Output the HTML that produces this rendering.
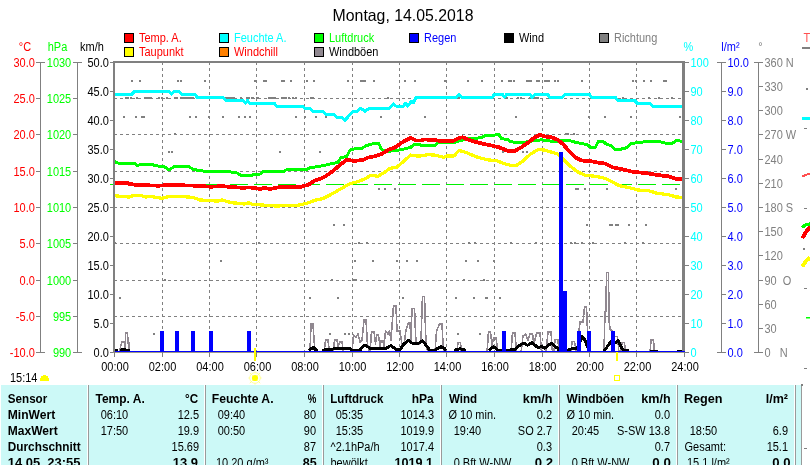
<!DOCTYPE html><html><head><meta charset="utf-8"><title>Montag, 14.05.2018</title><style>html,body{margin:0;padding:0;background:#fff;overflow:hidden}svg{display:block}text{font-family:'Liberation Sans', Arial, sans-serif}</style></head><body>
<svg width="810" height="465" viewBox="0 0 810 465">
<defs><clipPath id="plotclip"><rect x="114" y="62" width="568" height="290"/></clipPath></defs>
<rect x="0" y="0" width="810" height="465" fill="#fff"/>
<text transform="translate(332.61,21) scale(1,1.03)" font-size="16" fill="#000" textLength="140.86" lengthAdjust="spacingAndGlyphs">Montag, 14.05.2018</text>
<rect x="124.5" y="33.5" width="9" height="9" fill="#ff0000" stroke="#000" stroke-width="1"/>
<text transform="translate(139.00,42) scale(1,1.12)" font-size="11" fill="#ff0000">Temp. A.</text>
<rect x="219.5" y="33.5" width="9" height="9" fill="#00ffff" stroke="#000" stroke-width="1"/>
<text transform="translate(234.00,42) scale(1,1.12)" font-size="11" fill="#00ffff">Feuchte A.</text>
<rect x="314.5" y="33.5" width="9" height="9" fill="#00ff00" stroke="#000" stroke-width="1"/>
<text transform="translate(329.00,42) scale(1,1.12)" font-size="11" fill="#00ff00">Luftdruck</text>
<rect x="409.5" y="33.5" width="9" height="9" fill="#0000ff" stroke="#000" stroke-width="1"/>
<text transform="translate(424.00,42) scale(1,1.12)" font-size="11" fill="#0000ff">Regen</text>
<rect x="504.5" y="33.5" width="9" height="9" fill="#000" stroke="#000" stroke-width="1"/>
<text transform="translate(519.00,42) scale(1,1.12)" font-size="11" fill="#000">Wind</text>
<rect x="599.5" y="33.5" width="9" height="9" fill="#808080" stroke="#000" stroke-width="1"/>
<text transform="translate(614.00,42) scale(1,1.12)" font-size="11" fill="#808080">Richtung</text>
<rect x="124.5" y="47.5" width="9" height="9" fill="#ffff00" stroke="#000" stroke-width="1"/>
<text transform="translate(139.00,56) scale(1,1.12)" font-size="11" fill="#ff0000">Taupunkt</text>
<rect x="219.5" y="47.5" width="9" height="9" fill="#ff8000" stroke="#000" stroke-width="1"/>
<text transform="translate(234.00,56) scale(1,1.12)" font-size="11" fill="#ff0000">Windchill</text>
<rect x="314.5" y="47.5" width="9" height="9" fill="#908890" stroke="#000" stroke-width="1"/>
<text transform="translate(329.00,56) scale(1,1.12)" font-size="11" fill="#000">Windböen</text>
<g shape-rendering="crispEdges">
<line x1="162.5" y1="63" x2="162.5" y2="351" stroke="#808080" stroke-width="1" stroke-dasharray="3 3" stroke-dashoffset="1"/>
<line x1="209.5" y1="63" x2="209.5" y2="351" stroke="#808080" stroke-width="1" stroke-dasharray="3 3" stroke-dashoffset="1"/>
<line x1="256.5" y1="63" x2="256.5" y2="351" stroke="#808080" stroke-width="1" stroke-dasharray="3 3" stroke-dashoffset="1"/>
<line x1="304.5" y1="63" x2="304.5" y2="351" stroke="#808080" stroke-width="1" stroke-dasharray="3 3" stroke-dashoffset="1"/>
<line x1="352.5" y1="63" x2="352.5" y2="351" stroke="#808080" stroke-width="1" stroke-dasharray="3 3" stroke-dashoffset="1"/>
<line x1="399.5" y1="63" x2="399.5" y2="351" stroke="#808080" stroke-width="1" stroke-dasharray="3 3" stroke-dashoffset="1"/>
<line x1="446.5" y1="63" x2="446.5" y2="351" stroke="#808080" stroke-width="1" stroke-dasharray="3 3" stroke-dashoffset="1"/>
<line x1="494.5" y1="63" x2="494.5" y2="351" stroke="#808080" stroke-width="1" stroke-dasharray="3 3" stroke-dashoffset="1"/>
<line x1="542.5" y1="63" x2="542.5" y2="351" stroke="#808080" stroke-width="1" stroke-dasharray="3 3" stroke-dashoffset="1"/>
<line x1="589.5" y1="63" x2="589.5" y2="351" stroke="#808080" stroke-width="1" stroke-dasharray="3 3" stroke-dashoffset="1"/>
<line x1="636.5" y1="63" x2="636.5" y2="351" stroke="#808080" stroke-width="1" stroke-dasharray="3 3" stroke-dashoffset="1"/>
<line x1="115" y1="98.5" x2="682" y2="98.5" stroke="#808080" stroke-width="1" stroke-dasharray="3 3" stroke-dashoffset="1"/>
<line x1="115" y1="134.5" x2="682" y2="134.5" stroke="#808080" stroke-width="1" stroke-dasharray="3 3" stroke-dashoffset="1"/>
<line x1="115" y1="171.5" x2="682" y2="171.5" stroke="#808080" stroke-width="1" stroke-dasharray="3 3" stroke-dashoffset="1"/>
<line x1="115" y1="207.5" x2="682" y2="207.5" stroke="#808080" stroke-width="1" stroke-dasharray="3 3" stroke-dashoffset="1"/>
<line x1="115" y1="243.5" x2="682" y2="243.5" stroke="#808080" stroke-width="1" stroke-dasharray="3 3" stroke-dashoffset="1"/>
<line x1="115" y1="280.5" x2="682" y2="280.5" stroke="#808080" stroke-width="1" stroke-dasharray="3 3" stroke-dashoffset="1"/>
<line x1="115" y1="316.5" x2="682" y2="316.5" stroke="#808080" stroke-width="1" stroke-dasharray="3 3" stroke-dashoffset="1"/>
</g>
<rect x="131" y="80" width="2" height="2" fill="#808080" shape-rendering="crispEdges"/>
<rect x="139" y="80" width="2" height="2" fill="#808080" shape-rendering="crispEdges"/>
<rect x="177" y="80" width="2" height="2" fill="#808080" shape-rendering="crispEdges"/>
<rect x="180" y="80" width="2" height="2" fill="#808080" shape-rendering="crispEdges"/>
<rect x="204" y="80" width="2" height="2" fill="#808080" shape-rendering="crispEdges"/>
<rect x="254" y="80" width="2" height="2" fill="#808080" shape-rendering="crispEdges"/>
<rect x="263" y="80" width="2" height="2" fill="#808080" shape-rendering="crispEdges"/>
<rect x="265" y="80" width="2" height="2" fill="#808080" shape-rendering="crispEdges"/>
<rect x="281" y="80" width="2" height="2" fill="#808080" shape-rendering="crispEdges"/>
<rect x="283" y="80" width="2" height="2" fill="#808080" shape-rendering="crispEdges"/>
<rect x="290" y="80" width="2" height="2" fill="#808080" shape-rendering="crispEdges"/>
<rect x="306" y="80" width="2" height="2" fill="#808080" shape-rendering="crispEdges"/>
<rect x="313" y="80" width="2" height="2" fill="#808080" shape-rendering="crispEdges"/>
<rect x="347" y="80" width="2" height="2" fill="#808080" shape-rendering="crispEdges"/>
<rect x="360" y="80" width="2" height="2" fill="#808080" shape-rendering="crispEdges"/>
<rect x="362" y="80" width="2" height="2" fill="#808080" shape-rendering="crispEdges"/>
<rect x="364" y="80" width="2" height="2" fill="#808080" shape-rendering="crispEdges"/>
<rect x="373" y="80" width="2" height="2" fill="#808080" shape-rendering="crispEdges"/>
<rect x="404" y="80" width="2" height="2" fill="#808080" shape-rendering="crispEdges"/>
<rect x="414" y="80" width="2" height="2" fill="#808080" shape-rendering="crispEdges"/>
<rect x="444" y="80" width="2" height="2" fill="#808080" shape-rendering="crispEdges"/>
<rect x="467" y="80" width="2" height="2" fill="#808080" shape-rendering="crispEdges"/>
<rect x="481" y="80" width="2" height="2" fill="#808080" shape-rendering="crispEdges"/>
<rect x="501" y="80" width="2" height="2" fill="#808080" shape-rendering="crispEdges"/>
<rect x="508" y="80" width="2" height="2" fill="#808080" shape-rendering="crispEdges"/>
<rect x="510" y="80" width="2" height="2" fill="#808080" shape-rendering="crispEdges"/>
<rect x="513" y="80" width="2" height="2" fill="#808080" shape-rendering="crispEdges"/>
<rect x="526" y="80" width="2" height="2" fill="#808080" shape-rendering="crispEdges"/>
<rect x="528" y="80" width="2" height="2" fill="#808080" shape-rendering="crispEdges"/>
<rect x="530" y="80" width="2" height="2" fill="#808080" shape-rendering="crispEdges"/>
<rect x="536" y="80" width="2" height="2" fill="#808080" shape-rendering="crispEdges"/>
<rect x="538" y="80" width="2" height="2" fill="#808080" shape-rendering="crispEdges"/>
<rect x="544" y="80" width="2" height="2" fill="#808080" shape-rendering="crispEdges"/>
<rect x="546" y="80" width="2" height="2" fill="#808080" shape-rendering="crispEdges"/>
<rect x="548" y="80" width="2" height="2" fill="#808080" shape-rendering="crispEdges"/>
<rect x="554" y="80" width="2" height="2" fill="#808080" shape-rendering="crispEdges"/>
<rect x="557" y="80" width="2" height="2" fill="#808080" shape-rendering="crispEdges"/>
<rect x="581" y="80" width="2" height="2" fill="#808080" shape-rendering="crispEdges"/>
<rect x="632" y="80" width="2" height="2" fill="#808080" shape-rendering="crispEdges"/>
<rect x="635" y="80" width="2" height="2" fill="#808080" shape-rendering="crispEdges"/>
<rect x="643" y="80" width="2" height="2" fill="#808080" shape-rendering="crispEdges"/>
<rect x="650" y="80" width="2" height="2" fill="#808080" shape-rendering="crispEdges"/>
<rect x="663" y="80" width="2" height="2" fill="#808080" shape-rendering="crispEdges"/>
<rect x="665" y="80" width="2" height="2" fill="#808080" shape-rendering="crispEdges"/>
<rect x="125" y="97" width="2" height="2" fill="#808080" shape-rendering="crispEdges"/>
<rect x="127" y="97" width="2" height="2" fill="#808080" shape-rendering="crispEdges"/>
<rect x="130" y="97" width="2" height="2" fill="#808080" shape-rendering="crispEdges"/>
<rect x="136" y="97" width="2" height="2" fill="#808080" shape-rendering="crispEdges"/>
<rect x="144" y="97" width="2" height="2" fill="#808080" shape-rendering="crispEdges"/>
<rect x="146" y="97" width="2" height="2" fill="#808080" shape-rendering="crispEdges"/>
<rect x="148" y="97" width="2" height="2" fill="#808080" shape-rendering="crispEdges"/>
<rect x="150" y="97" width="2" height="2" fill="#808080" shape-rendering="crispEdges"/>
<rect x="158" y="97" width="2" height="2" fill="#808080" shape-rendering="crispEdges"/>
<rect x="161" y="97" width="2" height="2" fill="#808080" shape-rendering="crispEdges"/>
<rect x="166" y="97" width="2" height="2" fill="#808080" shape-rendering="crispEdges"/>
<rect x="174" y="97" width="2" height="2" fill="#808080" shape-rendering="crispEdges"/>
<rect x="176" y="97" width="2" height="2" fill="#808080" shape-rendering="crispEdges"/>
<rect x="180" y="97" width="2" height="2" fill="#808080" shape-rendering="crispEdges"/>
<rect x="182" y="97" width="2" height="2" fill="#808080" shape-rendering="crispEdges"/>
<rect x="184" y="97" width="2" height="2" fill="#808080" shape-rendering="crispEdges"/>
<rect x="186" y="97" width="2" height="2" fill="#808080" shape-rendering="crispEdges"/>
<rect x="188" y="97" width="2" height="2" fill="#808080" shape-rendering="crispEdges"/>
<rect x="190" y="97" width="2" height="2" fill="#808080" shape-rendering="crispEdges"/>
<rect x="192" y="97" width="2" height="2" fill="#808080" shape-rendering="crispEdges"/>
<rect x="225" y="97" width="2" height="2" fill="#808080" shape-rendering="crispEdges"/>
<rect x="227" y="97" width="2" height="2" fill="#808080" shape-rendering="crispEdges"/>
<rect x="229" y="97" width="2" height="2" fill="#808080" shape-rendering="crispEdges"/>
<rect x="231" y="97" width="2" height="2" fill="#808080" shape-rendering="crispEdges"/>
<rect x="233" y="97" width="2" height="2" fill="#808080" shape-rendering="crispEdges"/>
<rect x="240" y="97" width="2" height="2" fill="#808080" shape-rendering="crispEdges"/>
<rect x="246" y="97" width="2" height="2" fill="#808080" shape-rendering="crispEdges"/>
<rect x="248" y="97" width="2" height="2" fill="#808080" shape-rendering="crispEdges"/>
<rect x="251" y="97" width="2" height="2" fill="#808080" shape-rendering="crispEdges"/>
<rect x="252" y="97" width="2" height="2" fill="#808080" shape-rendering="crispEdges"/>
<rect x="256" y="97" width="2" height="2" fill="#808080" shape-rendering="crispEdges"/>
<rect x="257" y="97" width="2" height="2" fill="#808080" shape-rendering="crispEdges"/>
<rect x="268" y="97" width="2" height="2" fill="#808080" shape-rendering="crispEdges"/>
<rect x="270" y="97" width="2" height="2" fill="#808080" shape-rendering="crispEdges"/>
<rect x="272" y="97" width="2" height="2" fill="#808080" shape-rendering="crispEdges"/>
<rect x="274" y="97" width="2" height="2" fill="#808080" shape-rendering="crispEdges"/>
<rect x="281" y="97" width="2" height="2" fill="#808080" shape-rendering="crispEdges"/>
<rect x="283" y="97" width="2" height="2" fill="#808080" shape-rendering="crispEdges"/>
<rect x="285" y="97" width="2" height="2" fill="#808080" shape-rendering="crispEdges"/>
<rect x="288" y="97" width="2" height="2" fill="#808080" shape-rendering="crispEdges"/>
<rect x="292" y="97" width="2" height="2" fill="#808080" shape-rendering="crispEdges"/>
<rect x="295" y="97" width="2" height="2" fill="#808080" shape-rendering="crispEdges"/>
<rect x="310" y="97" width="2" height="2" fill="#808080" shape-rendering="crispEdges"/>
<rect x="312" y="97" width="2" height="2" fill="#808080" shape-rendering="crispEdges"/>
<rect x="387" y="97" width="2" height="2" fill="#808080" shape-rendering="crispEdges"/>
<rect x="458" y="97" width="2" height="2" fill="#808080" shape-rendering="crispEdges"/>
<rect x="505" y="97" width="2" height="2" fill="#808080" shape-rendering="crispEdges"/>
<rect x="506" y="97" width="2" height="2" fill="#808080" shape-rendering="crispEdges"/>
<rect x="517" y="97" width="2" height="2" fill="#808080" shape-rendering="crispEdges"/>
<rect x="520" y="97" width="2" height="2" fill="#808080" shape-rendering="crispEdges"/>
<rect x="529" y="97" width="2" height="2" fill="#808080" shape-rendering="crispEdges"/>
<rect x="531" y="97" width="2" height="2" fill="#808080" shape-rendering="crispEdges"/>
<rect x="533" y="97" width="2" height="2" fill="#808080" shape-rendering="crispEdges"/>
<rect x="535" y="97" width="2" height="2" fill="#808080" shape-rendering="crispEdges"/>
<rect x="537" y="97" width="2" height="2" fill="#808080" shape-rendering="crispEdges"/>
<rect x="622" y="97" width="2" height="2" fill="#808080" shape-rendering="crispEdges"/>
<rect x="648" y="97" width="2" height="2" fill="#808080" shape-rendering="crispEdges"/>
<rect x="658" y="97" width="2" height="2" fill="#808080" shape-rendering="crispEdges"/>
<rect x="671" y="97" width="2" height="2" fill="#808080" shape-rendering="crispEdges"/>
<rect x="123" y="116" width="2" height="2" fill="#808080" shape-rendering="crispEdges"/>
<rect x="135" y="116" width="2" height="2" fill="#808080" shape-rendering="crispEdges"/>
<rect x="141" y="116" width="2" height="2" fill="#808080" shape-rendering="crispEdges"/>
<rect x="143" y="116" width="2" height="2" fill="#808080" shape-rendering="crispEdges"/>
<rect x="189" y="116" width="2" height="2" fill="#808080" shape-rendering="crispEdges"/>
<rect x="195" y="116" width="2" height="2" fill="#808080" shape-rendering="crispEdges"/>
<rect x="208" y="116" width="2" height="2" fill="#808080" shape-rendering="crispEdges"/>
<rect x="222" y="116" width="2" height="2" fill="#808080" shape-rendering="crispEdges"/>
<rect x="238" y="116" width="2" height="2" fill="#808080" shape-rendering="crispEdges"/>
<rect x="244" y="116" width="2" height="2" fill="#808080" shape-rendering="crispEdges"/>
<rect x="249" y="116" width="2" height="2" fill="#808080" shape-rendering="crispEdges"/>
<rect x="295" y="116" width="2" height="2" fill="#808080" shape-rendering="crispEdges"/>
<rect x="304" y="116" width="2" height="2" fill="#808080" shape-rendering="crispEdges"/>
<rect x="315" y="116" width="2" height="2" fill="#808080" shape-rendering="crispEdges"/>
<rect x="325" y="116" width="2" height="2" fill="#808080" shape-rendering="crispEdges"/>
<rect x="380" y="116" width="2" height="2" fill="#808080" shape-rendering="crispEdges"/>
<rect x="424" y="116" width="2" height="2" fill="#808080" shape-rendering="crispEdges"/>
<rect x="515" y="116" width="2" height="2" fill="#808080" shape-rendering="crispEdges"/>
<rect x="588" y="116" width="2" height="2" fill="#808080" shape-rendering="crispEdges"/>
<rect x="604" y="116" width="2" height="2" fill="#808080" shape-rendering="crispEdges"/>
<rect x="630" y="116" width="2" height="2" fill="#808080" shape-rendering="crispEdges"/>
<rect x="679" y="116" width="2" height="2" fill="#808080" shape-rendering="crispEdges"/>
<rect x="168" y="151" width="2" height="2" fill="#808080" shape-rendering="crispEdges"/>
<rect x="171" y="151" width="2" height="2" fill="#808080" shape-rendering="crispEdges"/>
<rect x="279" y="151" width="2" height="2" fill="#808080" shape-rendering="crispEdges"/>
<rect x="319" y="151" width="2" height="2" fill="#808080" shape-rendering="crispEdges"/>
<rect x="502" y="151" width="2" height="2" fill="#808080" shape-rendering="crispEdges"/>
<rect x="522" y="151" width="2" height="2" fill="#808080" shape-rendering="crispEdges"/>
<rect x="526" y="151" width="2" height="2" fill="#808080" shape-rendering="crispEdges"/>
<rect x="378" y="188" width="2" height="2" fill="#808080" shape-rendering="crispEdges"/>
<rect x="384" y="188" width="2" height="2" fill="#808080" shape-rendering="crispEdges"/>
<rect x="394" y="188" width="2" height="2" fill="#808080" shape-rendering="crispEdges"/>
<rect x="575" y="188" width="2" height="2" fill="#808080" shape-rendering="crispEdges"/>
<rect x="577" y="188" width="2" height="2" fill="#808080" shape-rendering="crispEdges"/>
<rect x="584" y="188" width="2" height="2" fill="#808080" shape-rendering="crispEdges"/>
<rect x="606" y="188" width="2" height="2" fill="#808080" shape-rendering="crispEdges"/>
<rect x="675" y="188" width="2" height="2" fill="#808080" shape-rendering="crispEdges"/>
<rect x="174" y="133" width="2" height="2" fill="#808080" shape-rendering="crispEdges"/>
<rect x="565" y="133" width="2" height="2" fill="#808080" shape-rendering="crispEdges"/>
<rect x="567" y="133" width="2" height="2" fill="#808080" shape-rendering="crispEdges"/>
<rect x="573" y="133" width="2" height="2" fill="#808080" shape-rendering="crispEdges"/>
<rect x="333" y="224" width="2" height="2" fill="#808080" shape-rendering="crispEdges"/>
<rect x="343" y="224" width="2" height="2" fill="#808080" shape-rendering="crispEdges"/>
<rect x="586" y="224" width="2" height="2" fill="#808080" shape-rendering="crispEdges"/>
<rect x="609" y="224" width="2" height="2" fill="#808080" shape-rendering="crispEdges"/>
<rect x="611" y="224" width="2" height="2" fill="#808080" shape-rendering="crispEdges"/>
<rect x="615" y="224" width="2" height="2" fill="#808080" shape-rendering="crispEdges"/>
<rect x="617" y="224" width="2" height="2" fill="#808080" shape-rendering="crispEdges"/>
<rect x="628" y="224" width="2" height="2" fill="#808080" shape-rendering="crispEdges"/>
<rect x="645" y="224" width="2" height="2" fill="#808080" shape-rendering="crispEdges"/>
<rect x="114" y="242" width="2" height="2" fill="#808080" shape-rendering="crispEdges"/>
<rect x="258" y="242" width="2" height="2" fill="#808080" shape-rendering="crispEdges"/>
<rect x="358" y="242" width="2" height="2" fill="#808080" shape-rendering="crispEdges"/>
<rect x="366" y="242" width="2" height="2" fill="#808080" shape-rendering="crispEdges"/>
<rect x="468" y="242" width="2" height="2" fill="#808080" shape-rendering="crispEdges"/>
<rect x="474" y="242" width="2" height="2" fill="#808080" shape-rendering="crispEdges"/>
<rect x="510" y="242" width="2" height="2" fill="#808080" shape-rendering="crispEdges"/>
<rect x="535" y="242" width="2" height="2" fill="#808080" shape-rendering="crispEdges"/>
<rect x="570" y="242" width="2" height="2" fill="#808080" shape-rendering="crispEdges"/>
<rect x="574" y="242" width="2" height="2" fill="#808080" shape-rendering="crispEdges"/>
<rect x="581" y="242" width="2" height="2" fill="#808080" shape-rendering="crispEdges"/>
<rect x="592" y="242" width="2" height="2" fill="#808080" shape-rendering="crispEdges"/>
<rect x="624" y="242" width="2" height="2" fill="#808080" shape-rendering="crispEdges"/>
<rect x="642" y="242" width="2" height="2" fill="#808080" shape-rendering="crispEdges"/>
<rect x="220" y="260" width="2" height="2" fill="#808080" shape-rendering="crispEdges"/>
<rect x="354" y="260" width="2" height="2" fill="#808080" shape-rendering="crispEdges"/>
<rect x="372" y="260" width="2" height="2" fill="#808080" shape-rendering="crispEdges"/>
<rect x="396" y="260" width="2" height="2" fill="#808080" shape-rendering="crispEdges"/>
<rect x="406" y="260" width="2" height="2" fill="#808080" shape-rendering="crispEdges"/>
<rect x="416" y="260" width="2" height="2" fill="#808080" shape-rendering="crispEdges"/>
<rect x="465" y="260" width="2" height="2" fill="#808080" shape-rendering="crispEdges"/>
<rect x="477" y="260" width="2" height="2" fill="#808080" shape-rendering="crispEdges"/>
<rect x="493" y="260" width="2" height="2" fill="#808080" shape-rendering="crispEdges"/>
<rect x="164" y="279" width="2" height="2" fill="#808080" shape-rendering="crispEdges"/>
<rect x="331" y="279" width="2" height="2" fill="#808080" shape-rendering="crispEdges"/>
<rect x="353" y="279" width="2" height="2" fill="#808080" shape-rendering="crispEdges"/>
<rect x="355" y="279" width="2" height="2" fill="#808080" shape-rendering="crispEdges"/>
<rect x="463" y="279" width="2" height="2" fill="#808080" shape-rendering="crispEdges"/>
<rect x="483" y="279" width="2" height="2" fill="#808080" shape-rendering="crispEdges"/>
<rect x="119" y="297" width="2" height="2" fill="#808080" shape-rendering="crispEdges"/>
<rect x="309" y="297" width="2" height="2" fill="#808080" shape-rendering="crispEdges"/>
<rect x="337" y="297" width="2" height="2" fill="#808080" shape-rendering="crispEdges"/>
<rect x="402" y="297" width="2" height="2" fill="#808080" shape-rendering="crispEdges"/>
<rect x="455" y="297" width="2" height="2" fill="#808080" shape-rendering="crispEdges"/>
<rect x="473" y="297" width="2" height="2" fill="#808080" shape-rendering="crispEdges"/>
<rect x="486" y="297" width="2" height="2" fill="#808080" shape-rendering="crispEdges"/>
<rect x="485" y="297" width="2" height="2" fill="#808080" shape-rendering="crispEdges"/>
<rect x="499" y="297" width="2" height="2" fill="#808080" shape-rendering="crispEdges"/>
<rect x="153" y="333" width="2" height="2" fill="#808080" shape-rendering="crispEdges"/>
<rect x="329" y="333" width="2" height="2" fill="#808080" shape-rendering="crispEdges"/>
<rect x="344" y="333" width="2" height="2" fill="#808080" shape-rendering="crispEdges"/>
<rect x="348" y="333" width="2" height="2" fill="#808080" shape-rendering="crispEdges"/>
<rect x="457" y="333" width="2" height="2" fill="#808080" shape-rendering="crispEdges"/>
<rect x="479" y="333" width="2" height="2" fill="#808080" shape-rendering="crispEdges"/>
<line x1="114" y1="184.5" x2="683" y2="184.5" stroke="#00f000" stroke-width="1" stroke-dasharray="18 6" stroke-dashoffset="4" shape-rendering="crispEdges"/>
<rect x="110" y="184" width="3" height="1" fill="#00f000" shape-rendering="crispEdges"/>
<g clip-path="url(#plotclip)">
<polyline points="119.5,352.5 120.5,347.0 121.8,342.0 124.5,342.0 124.5,348.0 125.5,348.0 125.5,333.0 127.5,333.0 128.0,343.0 129.0,343.0 129.5,352.5 310.0,352.5 311.0,324.0 313.0,324.0 314.0,339.0 315.0,352.5 324.0,352.5 325.5,340.0 328.0,340.0 329.5,352.5 333.0,352.5 334.5,340.0 337.0,340.0 338.0,348.0 339.5,342.0 342.0,342.0 343.5,352.5 352.0,352.5 353.5,335.0 356.0,337.0 358.0,334.0 360.0,342.0 362.0,340.0 364.0,320.0 366.0,320.0 367.5,345.0 370.0,352.5 371.5,332.0 374.0,332.0 375.5,344.0 376.5,335.0 378.5,335.0 380.0,347.0 381.0,341.0 383.0,341.0 384.0,346.0 385.5,331.0 388.0,334.0 389.5,331.0 391.0,340.0 393.5,306.0 396.0,306.0 397.0,331.0 400.0,331.0 402.0,345.0 404.0,345.0 406.0,330.0 408.5,322.6 410.0,323.0 411.0,340.0 412.0,308.4 414.5,308.4 416.0,344.0 419.0,344.0 421.0,340.0 422.5,296.4 424.5,296.4 426.0,345.0 428.0,352.5 435.0,352.5 436.5,331.0 439.5,324.0 442.0,324.0 443.5,352.5 457.0,352.5 458.0,342.5 460.5,342.5 461.5,352.5 487.0,352.5 488.5,332.0 490.5,332.0 492.0,345.0 493.5,338.0 496.0,338.0 498.0,352.5 511.0,352.5 512.5,333.0 515.0,333.0 516.5,352.5 521.0,352.5 523.0,336.0 525.5,334.0 528.0,340.0 530.0,334.0 532.5,334.0 534.0,344.0 536.5,333.0 540.0,333.0 541.5,352.5 546.0,352.5 548.0,332.0 551.0,332.0 552.5,352.5 554.0,352.5 555.0,339.6 558.0,339.6 559.0,352.5 571.0,352.5 572.0,341.5 574.5,341.5 576.5,352.5 578.0,340.0 580.0,322.0 583.0,322.0 584.5,307.0 586.5,307.0 587.5,330.0 589.0,352.5 604.0,352.5 605.0,311.5 606.0,311.5 606.5,272.4 608.5,272.4 609.0,320.0 610.0,329.0 613.0,332.0 614.5,336.6 617.5,336.6 619.0,352.5 621.0,352.5 622.0,342.5 624.5,342.5 625.5,352.5 650.0,352.5 651.0,340.0 653.5,340.0 654.5,352.5 684.0,352.5" fill="none" stroke="#908890" stroke-width="1.6" stroke-linejoin="round" stroke-linecap="butt" shape-rendering="crispEdges" stroke-linejoin="miter"/>
</g>
<polyline points="114.0,350.5 118.0,350.5" fill="none" stroke="#000" stroke-width="3" stroke-linejoin="round" stroke-linecap="butt" shape-rendering="crispEdges"/>
<polyline points="120.0,350.5 121.5,350.5 122.5,349.5 125.0,349.5 126.0,350.5 130.0,350.5" fill="none" stroke="#000" stroke-width="3" stroke-linejoin="round" stroke-linecap="butt" shape-rendering="crispEdges"/>
<polyline points="309.0,350.5 311.5,348.5 313.5,347.6 316.0,350.0 318.0,350.5" fill="none" stroke="#000" stroke-width="3" stroke-linejoin="round" stroke-linecap="butt" shape-rendering="crispEdges"/>
<polyline points="322.0,350.5 326.0,349.5 333.0,349.0 337.0,348.4 349.0,348.4 352.0,350.0 360.0,350.3 362.5,347.0 365.0,345.3 368.0,347.0 370.0,348.4 386.0,348.4 389.0,346.5 391.0,345.6 394.0,348.0 396.0,349.5 400.0,349.5 404.0,344.0 408.4,340.4 412.0,343.0 416.0,343.9 419.0,343.0 422.6,341.0 426.0,345.0 429.7,350.3 435.4,350.3 438.0,348.0 441.0,346.7 444.0,348.0 446.0,350.3" fill="none" stroke="#000" stroke-width="3" stroke-linejoin="round" stroke-linecap="butt" shape-rendering="crispEdges"/>
<polyline points="454.0,350.5 457.0,349.3 460.0,348.9 463.0,349.3 466.0,350.5" fill="none" stroke="#000" stroke-width="3" stroke-linejoin="round" stroke-linecap="butt" shape-rendering="crispEdges"/>
<polyline points="489.0,350.5 491.5,348.0 493.5,346.7 496.0,348.5 498.0,350.3 508.0,350.3 515.0,349.5 518.0,346.5 521.9,344.0 524.5,343.5 527.6,345.3 531.8,342.8 535.0,345.0 537.5,347.4 541.7,346.7 544.6,348.2 548.0,345.5 551.7,343.2 554.5,346.0 557.3,348.0 559.0,350.5" fill="none" stroke="#000" stroke-width="3" stroke-linejoin="round" stroke-linecap="butt" shape-rendering="crispEdges"/>
<polyline points="567.0,350.5 571.5,348.9 574.0,348.5 577.0,348.9 579.0,344.0 582.4,336.6 585.0,340.0 587.3,346.3 589.0,349.5 591.0,350.5" fill="none" stroke="#000" stroke-width="3" stroke-linejoin="round" stroke-linecap="butt" shape-rendering="crispEdges"/>
<polyline points="603.0,350.5 605.0,350.0 608.0,345.5 611.4,341.3 614.0,342.5 615.5,342.9 618.0,340.8 621.2,347.0 623.0,350.0 628.6,350.3" fill="none" stroke="#000" stroke-width="3" stroke-linejoin="round" stroke-linecap="butt" shape-rendering="crispEdges"/>
<rect x="650" y="350" width="8" height="1" fill="#000" shape-rendering="crispEdges"/>
<rect x="677" y="350" width="6" height="1" fill="#000" shape-rendering="crispEdges"/>
<polyline points="114.0,94.5 131.6,94.5 134.6,91.5 168.8,91.5 171.4,94.2 174.0,91.5 179.0,91.5 181.7,94.5 194.7,94.5 197.3,97.3 223.2,97.3 225.8,100.3 243.0,100.3 245.7,103.2 247.4,100.5 250.0,103.2 274.2,103.2 276.8,106.2 302.7,106.2 304.8,108.4 309.6,108.4 312.6,111.3 322.6,111.3 325.6,114.3 333.8,114.3 336.8,117.2 341.6,117.2 345.0,120.1 352.8,111.7 357.0,111.3 360.6,108.3 365.0,111.3 369.4,108.3 389.4,108.3 393.3,103.9 396.1,106.1 403.3,106.1 405.6,103.3 407.8,106.1 411.7,101.1 413.3,102.8 416.1,97.2 456.5,97.2 459.0,94.2 461.7,97.2 492.0,97.2 494.6,94.4 502.3,94.4 504.6,97.2 506.7,94.3 530.0,94.3 532.0,97.3 536.0,94.2 547.4,94.2 549.8,97.2 562.6,97.2 565.6,94.2 589.3,94.2 591.6,97.2 615.3,97.2 617.9,100.3 634.7,100.3 637.0,103.3 649.5,103.3 652.5,106.3 683.0,106.3" fill="none" stroke="#00ffff" stroke-width="3" stroke-linejoin="round" stroke-linecap="butt" shape-rendering="crispEdges"/>
<polyline points="114.0,161.5 118.6,163.2 134.2,163.2 136.8,165.4 142.8,164.2 151.5,164.2 155.0,165.8 161.0,166.3 165.3,167.2 169.1,169.8 174.8,166.3 188.6,166.3 193.0,169.4 199.9,170.6 206.8,171.5 231.0,172.0 237.9,173.2 240.5,175.3 250.0,176.0 253.5,174.6 260.4,174.0 263.0,171.5 283.7,171.5 286.3,169.8 307.0,169.8 309.6,167.7 318.3,166.6 324.3,165.4 331.2,163.7 338.1,162.5 340.7,157.7 346.8,156.3 350.2,149.9 353.7,149.0 362.3,148.1 365.8,145.9 372.7,143.8 378.8,143.5 381.3,149.0 384.8,151.1 390.0,151.1 400.4,149.9 410.7,147.3 414.2,144.2 419.4,144.2 421.1,145.2 434.9,145.2 438.4,142.1 455.7,142.1 460.9,140.4 469.5,138.6 481.6,137.8 485.1,135.5 498.9,134.8 501.5,138.6 507.5,139.5 511.0,141.8 521.4,143.0 528.3,141.4 541.9,139.8 551.7,141.3 569.5,140.7 577.4,142.7 587.3,144.7 591.2,147.7 595.2,147.7 598.1,141.7 603.1,141.3 607.0,144.7 611.0,145.3 614.9,149.6 620.9,149.2 626.8,147.7 630.7,143.7 640.6,142.1 658.4,141.3 666.3,143.3 672.2,143.3 676.2,140.7 683.0,141.3" fill="none" stroke="#00ff00" stroke-width="3" stroke-linejoin="round" stroke-linecap="butt" shape-rendering="crispEdges"/>
<polyline points="114.0,195.7 129.0,197.0 134.2,195.3 140.2,195.3 145.4,197.0 151.5,196.5 161.8,198.3 168.8,196.5 177.4,196.2 193.0,197.4 199.9,200.0 210.2,200.5 217.2,201.2 222.3,200.0 231.0,202.6 244.8,204.0 248.3,202.6 252.0,204.3 275.9,206.0 298.4,205.2 303.6,204.0 308.8,202.6 315.7,200.0 322.6,198.8 329.5,195.3 336.4,191.4 343.3,187.4 350.2,183.6 357.2,181.8 364.1,179.3 371.0,175.3 377.9,176.3 383.1,173.2 390.0,168.4 396.9,167.2 403.8,161.1 410.7,155.1 415.9,155.9 421.1,155.9 428.0,154.7 434.9,155.1 443.6,157.3 447.0,155.9 453.9,155.9 459.1,150.4 466.0,152.5 476.4,156.8 486.8,159.7 497.2,160.8 504.1,163.7 511.0,165.4 516.2,165.4 523.1,160.8 530.0,154.5 537.9,149.6 543.8,150.0 549.8,151.6 557.7,154.0 563.6,159.5 569.5,165.4 577.4,171.8 585.3,175.3 595.2,176.3 605.0,178.3 613.0,182.2 618.9,185.6 628.8,187.6 638.6,190.1 648.5,190.7 656.4,193.1 668.3,194.7 676.2,197.0 683.0,197.4" fill="none" stroke="#ffff00" stroke-width="3.3" stroke-linejoin="round" stroke-linecap="butt" shape-rendering="crispEdges"/>
<polyline points="114.0,182.7 127.3,182.7 129.0,183.9 137.6,185.0 158.4,185.7 168.8,185.0 196.4,185.7 210.2,186.7 222.3,186.2 231.0,187.0 243.0,187.8 250.0,187.4 254.0,188.0 260.0,188.9 264.0,188.0 270.0,189.0 275.0,188.0 279.0,187.2 300.0,187.1 303.0,186.0 308.0,185.0 311.0,183.2 314.0,181.0 319.1,179.3 324.3,177.0 331.2,172.3 336.4,168.0 341.6,163.7 346.8,159.7 353.7,160.8 362.3,160.2 367.5,157.7 374.4,156.3 381.3,154.2 388.3,149.9 395.2,147.3 402.1,142.4 410.7,137.8 415.9,140.4 421.1,140.4 424.6,139.5 434.9,140.0 441.8,141.2 453.9,140.7 459.1,137.8 462.6,137.3 467.8,139.5 476.4,142.1 483.3,143.8 490.2,145.2 498.9,147.3 507.5,150.7 514.4,151.1 521.4,147.3 530.0,141.2 534.0,137.8 539.9,134.8 543.8,136.2 551.7,137.4 557.7,139.8 563.6,144.7 569.5,151.6 575.4,157.5 581.4,160.5 589.3,160.9 597.2,162.5 605.0,163.5 613.0,167.4 622.8,169.4 632.7,171.8 644.6,172.9 656.4,174.9 668.3,176.3 676.2,178.9 683.0,179.3" fill="none" stroke="#ff0000" stroke-width="3.8" stroke-linejoin="round" stroke-linecap="butt" shape-rendering="crispEdges"/>
<rect x="160" y="331" width="4" height="20" fill="#0000ff" shape-rendering="crispEdges"/>
<rect x="175" y="331" width="4" height="20" fill="#0000ff" shape-rendering="crispEdges"/>
<rect x="191" y="331" width="4" height="20" fill="#0000ff" shape-rendering="crispEdges"/>
<rect x="209" y="331" width="4" height="20" fill="#0000ff" shape-rendering="crispEdges"/>
<rect x="247" y="331" width="4" height="20" fill="#0000ff" shape-rendering="crispEdges"/>
<rect x="502" y="331" width="4" height="20" fill="#0000ff" shape-rendering="crispEdges"/>
<rect x="559" y="151.6" width="4" height="199.4" fill="#0000ff" shape-rendering="crispEdges"/>
<rect x="563" y="291" width="4" height="60" fill="#0000ff" shape-rendering="crispEdges"/>
<rect x="577" y="331" width="4" height="20" fill="#0000ff" shape-rendering="crispEdges"/>
<rect x="587" y="331" width="4" height="20" fill="#0000ff" shape-rendering="crispEdges"/>
<rect x="611" y="331" width="4" height="20" fill="#0000ff" shape-rendering="crispEdges"/>
<rect x="114" y="351" width="571" height="1" fill="#0000ff" shape-rendering="crispEdges"/>
<g shape-rendering="crispEdges">
<rect x="113" y="61" width="572" height="2" fill="#808080"/>
<rect x="113" y="62" width="2" height="291" fill="#808080"/>
<rect x="682" y="61" width="3" height="290" fill="#808080"/>
<rect x="113" y="352" width="572" height="1" fill="#9c9888"/>
<rect x="114" y="352" width="1" height="5" fill="#808080"/>
<rect x="162" y="352" width="1" height="5" fill="#808080"/>
<rect x="209" y="352" width="1" height="5" fill="#808080"/>
<rect x="256" y="352" width="1" height="5" fill="#808080"/>
<rect x="304" y="352" width="1" height="5" fill="#808080"/>
<rect x="352" y="352" width="1" height="5" fill="#808080"/>
<rect x="399" y="352" width="1" height="5" fill="#808080"/>
<rect x="446" y="352" width="1" height="5" fill="#808080"/>
<rect x="494" y="352" width="1" height="5" fill="#808080"/>
<rect x="542" y="352" width="1" height="5" fill="#808080"/>
<rect x="589" y="352" width="1" height="5" fill="#808080"/>
<rect x="636" y="352" width="1" height="5" fill="#808080"/>
<rect x="684" y="352" width="1" height="5" fill="#808080"/>
<rect x="110" y="62" width="3" height="1" fill="#808080"/>
<rect x="110" y="91" width="3" height="1" fill="#808080"/>
<rect x="110" y="120" width="3" height="1" fill="#808080"/>
<rect x="110" y="149" width="3" height="1" fill="#808080"/>
<rect x="110" y="178" width="3" height="1" fill="#808080"/>
<rect x="110" y="207" width="3" height="1" fill="#808080"/>
<rect x="110" y="236" width="3" height="1" fill="#808080"/>
<rect x="110" y="265" width="3" height="1" fill="#808080"/>
<rect x="110" y="294" width="3" height="1" fill="#808080"/>
<rect x="110" y="323" width="3" height="1" fill="#808080"/>
<rect x="110" y="352" width="3" height="1" fill="#808080"/>
<rect x="685" y="62" width="4" height="1" fill="#808080"/>
<rect x="685" y="91" width="4" height="1" fill="#808080"/>
<rect x="685" y="120" width="4" height="1" fill="#808080"/>
<rect x="685" y="149" width="4" height="1" fill="#808080"/>
<rect x="685" y="178" width="4" height="1" fill="#808080"/>
<rect x="685" y="207" width="4" height="1" fill="#808080"/>
<rect x="685" y="236" width="4" height="1" fill="#808080"/>
<rect x="685" y="265" width="4" height="1" fill="#808080"/>
<rect x="685" y="294" width="4" height="1" fill="#808080"/>
<rect x="685" y="323" width="4" height="1" fill="#808080"/>
<rect x="685" y="352" width="4" height="1" fill="#808080"/>
<rect x="40" y="62" width="1" height="291" fill="#808080"/>
<rect x="36" y="62" width="9" height="1" fill="#808080"/>
<rect x="36" y="352" width="9" height="1" fill="#808080"/>
<rect x="36" y="98" width="4" height="1" fill="#808080"/>
<rect x="36" y="134" width="4" height="1" fill="#808080"/>
<rect x="36" y="171" width="4" height="1" fill="#808080"/>
<rect x="36" y="207" width="4" height="1" fill="#808080"/>
<rect x="36" y="243" width="4" height="1" fill="#808080"/>
<rect x="36" y="280" width="4" height="1" fill="#808080"/>
<rect x="36" y="316" width="4" height="1" fill="#808080"/>
<rect x="77" y="62" width="1" height="291" fill="#808080"/>
<rect x="73" y="62" width="9" height="1" fill="#808080"/>
<rect x="73" y="352" width="9" height="1" fill="#808080"/>
<rect x="73" y="98" width="4" height="1" fill="#808080"/>
<rect x="73" y="134" width="4" height="1" fill="#808080"/>
<rect x="73" y="171" width="4" height="1" fill="#808080"/>
<rect x="73" y="207" width="4" height="1" fill="#808080"/>
<rect x="73" y="243" width="4" height="1" fill="#808080"/>
<rect x="73" y="280" width="4" height="1" fill="#808080"/>
<rect x="73" y="316" width="4" height="1" fill="#808080"/>
<rect x="721" y="62" width="1" height="291" fill="#808080"/>
<rect x="717" y="62" width="9" height="1" fill="#808080"/>
<rect x="717" y="352" width="9" height="1" fill="#808080"/>
<rect x="722" y="91" width="4" height="1" fill="#808080"/>
<rect x="722" y="120" width="4" height="1" fill="#808080"/>
<rect x="722" y="149" width="4" height="1" fill="#808080"/>
<rect x="722" y="178" width="4" height="1" fill="#808080"/>
<rect x="722" y="207" width="4" height="1" fill="#808080"/>
<rect x="722" y="236" width="4" height="1" fill="#808080"/>
<rect x="722" y="265" width="4" height="1" fill="#808080"/>
<rect x="722" y="294" width="4" height="1" fill="#808080"/>
<rect x="722" y="323" width="4" height="1" fill="#808080"/>
<rect x="758" y="62" width="1" height="291" fill="#808080"/>
<rect x="754" y="62" width="9" height="1" fill="#808080"/>
<rect x="754" y="352" width="9" height="1" fill="#808080"/>
<rect x="759" y="86" width="4" height="1" fill="#808080"/>
<rect x="759" y="110" width="4" height="1" fill="#808080"/>
<rect x="759" y="134" width="4" height="1" fill="#808080"/>
<rect x="759" y="159" width="4" height="1" fill="#808080"/>
<rect x="759" y="183" width="4" height="1" fill="#808080"/>
<rect x="759" y="207" width="4" height="1" fill="#808080"/>
<rect x="759" y="231" width="4" height="1" fill="#808080"/>
<rect x="759" y="255" width="4" height="1" fill="#808080"/>
<rect x="759" y="280" width="4" height="1" fill="#808080"/>
<rect x="759" y="304" width="4" height="1" fill="#808080"/>
<rect x="759" y="328" width="4" height="1" fill="#808080"/>
</g>
<text transform="translate(25.00,51) scale(1,1.12)" font-size="11" fill="#ff0000" text-anchor="middle">°C</text>
<text transform="translate(57.50,51) scale(1,1.12)" font-size="11" fill="#00ff00" text-anchor="middle">hPa</text>
<text transform="translate(92.00,51) scale(1,1.12)" font-size="11" fill="#000" text-anchor="middle">km/h</text>
<text transform="translate(34.80,66.6) scale(1,1.12)" font-size="11" fill="#ff0000" text-anchor="end">30.0</text>
<text transform="translate(71.20,66.6) scale(1,1.12)" font-size="11" fill="#00ff00" text-anchor="end">1030</text>
<text transform="translate(34.80,102.6) scale(1,1.12)" font-size="11" fill="#ff0000" text-anchor="end">25.0</text>
<text transform="translate(71.20,102.6) scale(1,1.12)" font-size="11" fill="#00ff00" text-anchor="end">1025</text>
<text transform="translate(34.80,138.6) scale(1,1.12)" font-size="11" fill="#ff0000" text-anchor="end">20.0</text>
<text transform="translate(71.20,138.6) scale(1,1.12)" font-size="11" fill="#00ff00" text-anchor="end">1020</text>
<text transform="translate(34.80,175.6) scale(1,1.12)" font-size="11" fill="#ff0000" text-anchor="end">15.0</text>
<text transform="translate(71.20,175.6) scale(1,1.12)" font-size="11" fill="#00ff00" text-anchor="end">1015</text>
<text transform="translate(34.80,211.6) scale(1,1.12)" font-size="11" fill="#ff0000" text-anchor="end">10.0</text>
<text transform="translate(71.20,211.6) scale(1,1.12)" font-size="11" fill="#00ff00" text-anchor="end">1010</text>
<text transform="translate(34.80,247.6) scale(1,1.12)" font-size="11" fill="#ff0000" text-anchor="end">5.0</text>
<text transform="translate(71.20,247.6) scale(1,1.12)" font-size="11" fill="#00ff00" text-anchor="end">1005</text>
<text transform="translate(34.80,284.6) scale(1,1.12)" font-size="11" fill="#ff0000" text-anchor="end">0.0</text>
<text transform="translate(71.20,284.6) scale(1,1.12)" font-size="11" fill="#00ff00" text-anchor="end">1000</text>
<text transform="translate(34.80,320.6) scale(1,1.12)" font-size="11" fill="#ff0000" text-anchor="end">-5.0</text>
<text transform="translate(71.20,320.6) scale(1,1.12)" font-size="11" fill="#00ff00" text-anchor="end">995</text>
<text transform="translate(34.80,356.6) scale(1,1.12)" font-size="11" fill="#ff0000" text-anchor="end">-10.0</text>
<text transform="translate(71.20,356.6) scale(1,1.12)" font-size="11" fill="#00ff00" text-anchor="end">990</text>
<text transform="translate(108.80,66.6) scale(1,1.12)" font-size="11" fill="#000" text-anchor="end">50.0</text>
<text transform="translate(690.50,66.6) scale(1,1.12)" font-size="11" fill="#00ffff">100</text>
<text transform="translate(727.50,66.6) scale(1,1.12)" font-size="11" fill="#0000ff">10.0</text>
<text transform="translate(108.80,95.6) scale(1,1.12)" font-size="11" fill="#000" text-anchor="end">45.0</text>
<text transform="translate(690.50,95.6) scale(1,1.12)" font-size="11" fill="#00ffff">90</text>
<text transform="translate(727.50,95.6) scale(1,1.12)" font-size="11" fill="#0000ff">9.0</text>
<text transform="translate(108.80,124.6) scale(1,1.12)" font-size="11" fill="#000" text-anchor="end">40.0</text>
<text transform="translate(690.50,124.6) scale(1,1.12)" font-size="11" fill="#00ffff">80</text>
<text transform="translate(727.50,124.6) scale(1,1.12)" font-size="11" fill="#0000ff">8.0</text>
<text transform="translate(108.80,153.6) scale(1,1.12)" font-size="11" fill="#000" text-anchor="end">35.0</text>
<text transform="translate(690.50,153.6) scale(1,1.12)" font-size="11" fill="#00ffff">70</text>
<text transform="translate(727.50,153.6) scale(1,1.12)" font-size="11" fill="#0000ff">7.0</text>
<text transform="translate(108.80,182.6) scale(1,1.12)" font-size="11" fill="#000" text-anchor="end">30.0</text>
<text transform="translate(690.50,182.6) scale(1,1.12)" font-size="11" fill="#00ffff">60</text>
<text transform="translate(727.50,182.6) scale(1,1.12)" font-size="11" fill="#0000ff">6.0</text>
<text transform="translate(108.80,211.6) scale(1,1.12)" font-size="11" fill="#000" text-anchor="end">25.0</text>
<text transform="translate(690.50,211.6) scale(1,1.12)" font-size="11" fill="#00ffff">50</text>
<text transform="translate(727.50,211.6) scale(1,1.12)" font-size="11" fill="#0000ff">5.0</text>
<text transform="translate(108.80,240.6) scale(1,1.12)" font-size="11" fill="#000" text-anchor="end">20.0</text>
<text transform="translate(690.50,240.6) scale(1,1.12)" font-size="11" fill="#00ffff">40</text>
<text transform="translate(727.50,240.6) scale(1,1.12)" font-size="11" fill="#0000ff">4.0</text>
<text transform="translate(108.80,269.6) scale(1,1.12)" font-size="11" fill="#000" text-anchor="end">15.0</text>
<text transform="translate(690.50,269.6) scale(1,1.12)" font-size="11" fill="#00ffff">30</text>
<text transform="translate(727.50,269.6) scale(1,1.12)" font-size="11" fill="#0000ff">3.0</text>
<text transform="translate(108.80,298.6) scale(1,1.12)" font-size="11" fill="#000" text-anchor="end">10.0</text>
<text transform="translate(690.50,298.6) scale(1,1.12)" font-size="11" fill="#00ffff">20</text>
<text transform="translate(727.50,298.6) scale(1,1.12)" font-size="11" fill="#0000ff">2.0</text>
<text transform="translate(108.80,327.6) scale(1,1.12)" font-size="11" fill="#000" text-anchor="end">5.0</text>
<text transform="translate(690.50,327.6) scale(1,1.12)" font-size="11" fill="#00ffff">10</text>
<text transform="translate(727.50,327.6) scale(1,1.12)" font-size="11" fill="#0000ff">1.0</text>
<text transform="translate(108.80,356.6) scale(1,1.12)" font-size="11" fill="#000" text-anchor="end">0.0</text>
<text transform="translate(690.50,356.6) scale(1,1.12)" font-size="11" fill="#00ffff">0</text>
<text transform="translate(727.50,356.6) scale(1,1.12)" font-size="11" fill="#0000ff">0.0</text>
<text transform="translate(764.50,66.6) scale(1,1.12)" font-size="11" fill="#808080" xml:space="preserve">360 N</text>
<text transform="translate(764.50,90.6) scale(1,1.12)" font-size="11" fill="#808080" xml:space="preserve">330</text>
<text transform="translate(764.50,114.6) scale(1,1.12)" font-size="11" fill="#808080" xml:space="preserve">300</text>
<text transform="translate(764.50,138.6) scale(1,1.12)" font-size="11" fill="#808080" xml:space="preserve">270 W</text>
<text transform="translate(764.50,163.6) scale(1,1.12)" font-size="11" fill="#808080" xml:space="preserve">240</text>
<text transform="translate(764.50,187.6) scale(1,1.12)" font-size="11" fill="#808080" xml:space="preserve">210</text>
<text transform="translate(764.50,211.6) scale(1,1.12)" font-size="11" fill="#808080" xml:space="preserve">180 S</text>
<text transform="translate(764.50,235.6) scale(1,1.12)" font-size="11" fill="#808080" xml:space="preserve">150</text>
<text transform="translate(764.50,259.6) scale(1,1.12)" font-size="11" fill="#808080" xml:space="preserve">120</text>
<text transform="translate(764.50,284.6) scale(1,1.12)" font-size="11" fill="#808080" xml:space="preserve">90  O</text>
<text transform="translate(764.50,308.6) scale(1,1.12)" font-size="11" fill="#808080" xml:space="preserve">60</text>
<text transform="translate(764.50,332.6) scale(1,1.12)" font-size="11" fill="#808080" xml:space="preserve">30</text>
<text transform="translate(764.50,356.6) scale(1,1.12)" font-size="11" fill="#808080" xml:space="preserve">0   N</text>
<text transform="translate(688.50,50.5) scale(1,1.12)" font-size="11" fill="#00ffff" text-anchor="middle">%</text>
<text transform="translate(730.50,50.5) scale(1,1.12)" font-size="11" fill="#0000ff" text-anchor="middle">l/m²</text>
<text transform="translate(760.50,51) scale(1,1.12)" font-size="11" fill="#808080" text-anchor="middle">°</text>
<text transform="translate(115.00,371) scale(1,1.12)" font-size="11" fill="#000" text-anchor="middle">00:00</text>
<text transform="translate(162.50,371) scale(1,1.12)" font-size="11" fill="#000" text-anchor="middle">02:00</text>
<text transform="translate(210.00,371) scale(1,1.12)" font-size="11" fill="#000" text-anchor="middle">04:00</text>
<text transform="translate(257.50,371) scale(1,1.12)" font-size="11" fill="#000" text-anchor="middle">06:00</text>
<text transform="translate(305.00,371) scale(1,1.12)" font-size="11" fill="#000" text-anchor="middle">08:00</text>
<text transform="translate(352.50,371) scale(1,1.12)" font-size="11" fill="#000" text-anchor="middle">10:00</text>
<text transform="translate(400.00,371) scale(1,1.12)" font-size="11" fill="#000" text-anchor="middle">12:00</text>
<text transform="translate(447.50,371) scale(1,1.12)" font-size="11" fill="#000" text-anchor="middle">14:00</text>
<text transform="translate(495.00,371) scale(1,1.12)" font-size="11" fill="#000" text-anchor="middle">16:00</text>
<text transform="translate(542.50,371) scale(1,1.12)" font-size="11" fill="#000" text-anchor="middle">18:00</text>
<text transform="translate(590.00,371) scale(1,1.12)" font-size="11" fill="#000" text-anchor="middle">20:00</text>
<text transform="translate(637.50,371) scale(1,1.12)" font-size="11" fill="#000" text-anchor="middle">22:00</text>
<text transform="translate(685.00,371) scale(1,1.12)" font-size="11" fill="#000" text-anchor="middle">24:00</text>
<rect x="254" y="348" width="2" height="13" fill="#ffff00" shape-rendering="crispEdges"/>
<rect x="616" y="352" width="2" height="9" fill="#ffff00" shape-rendering="crispEdges"/>
<circle cx="255" cy="378" r="5.3" fill="none" stroke="#ffffa0" stroke-width="1"/>
<g stroke="#ffff90" stroke-width="1"><line x1="257.12" y1="380.12" x2="260.23" y2="383.23"/><line x1="252.88" y1="380.12" x2="249.77" y2="383.23"/><line x1="252.88" y1="375.88" x2="249.77" y2="372.77"/><line x1="257.12" y1="375.88" x2="260.23" y2="372.77"/><line x1="260.00" y1="378.00" x2="261.60" y2="378.00"/><line x1="255.00" y1="383.00" x2="255.00" y2="384.60"/><line x1="250.00" y1="378.00" x2="248.40" y2="378.00"/><line x1="255.00" y1="373.00" x2="255.00" y2="371.40"/></g>
<circle cx="255" cy="378" r="3.1" fill="#ffff00"/>
<rect x="614.5" y="375.5" width="5" height="5" fill="none" stroke="#ffff00" stroke-width="1"/>
<text transform="translate(10.00,382) scale(1,1.12)" font-size="11" fill="#000">15:14</text>
<path d="M40,381 V378 H41 V376 H43 V375 H46 V376 H48 V378 H49 V381 Z" fill="#ffff00" shape-rendering="crispEdges"/>
<rect x="1" y="385" width="800" height="80" fill="#ccf9f7" shape-rendering="crispEdges"/>
<rect x="87" y="385" width="1" height="80" fill="#ffffff" shape-rendering="crispEdges"/>
<rect x="88" y="385" width="1" height="80" fill="#9a9a9a" shape-rendering="crispEdges"/>
<rect x="204" y="385" width="1" height="80" fill="#ffffff" shape-rendering="crispEdges"/>
<rect x="205" y="385" width="1" height="80" fill="#9a9a9a" shape-rendering="crispEdges"/>
<rect x="322" y="385" width="1" height="80" fill="#ffffff" shape-rendering="crispEdges"/>
<rect x="323" y="385" width="1" height="80" fill="#9a9a9a" shape-rendering="crispEdges"/>
<rect x="440" y="385" width="1" height="80" fill="#ffffff" shape-rendering="crispEdges"/>
<rect x="441" y="385" width="1" height="80" fill="#9a9a9a" shape-rendering="crispEdges"/>
<rect x="558" y="385" width="1" height="80" fill="#ffffff" shape-rendering="crispEdges"/>
<rect x="559" y="385" width="1" height="80" fill="#9a9a9a" shape-rendering="crispEdges"/>
<rect x="676" y="385" width="1" height="80" fill="#ffffff" shape-rendering="crispEdges"/>
<rect x="677" y="385" width="1" height="80" fill="#9a9a9a" shape-rendering="crispEdges"/>
<rect x="794" y="385" width="1" height="80" fill="#ffffff" shape-rendering="crispEdges"/>
<rect x="795" y="385" width="1" height="80" fill="#9a9a9a" shape-rendering="crispEdges"/>
<rect x="801" y="384" width="1" height="81" fill="#9a9a9a" shape-rendering="crispEdges"/>
<text transform="translate(7.81,403) scale(1,1.07)" font-size="11.8" fill="#000" font-weight="bold" textLength="39.44" lengthAdjust="spacingAndGlyphs">Sensor</text>
<text transform="translate(7.78,419) scale(1,1.07)" font-size="11.8" fill="#000" font-weight="bold" textLength="47.41" lengthAdjust="spacingAndGlyphs">MinWert</text>
<text transform="translate(7.78,435) scale(1,1.07)" font-size="11.8" fill="#000" font-weight="bold" textLength="49.92" lengthAdjust="spacingAndGlyphs">MaxWert</text>
<text transform="translate(7.80,451) scale(1,1.07)" font-size="11.8" fill="#000" font-weight="bold" textLength="72.78" lengthAdjust="spacingAndGlyphs">Durchschnitt</text>
<text transform="translate(7.70,467) scale(1,1.07)" font-size="11.8" fill="#000" font-weight="bold" textLength="72.79" lengthAdjust="spacingAndGlyphs">14.05. 23:55</text>
<text transform="translate(95.50,403) scale(1,1.07)" font-size="11.8" fill="#000" font-weight="bold" textLength="49.26" lengthAdjust="spacingAndGlyphs">Temp. A.</text>
<text transform="translate(185.01,403) scale(1,1.07)" font-size="11.8" fill="#000" font-weight="bold" textLength="13.12" lengthAdjust="spacingAndGlyphs">°C</text>
<text transform="translate(100.70,418.5) scale(1,1.12)" font-size="11" fill="#000">06:10</text>
<text transform="translate(199.00,418.5) scale(1,1.12)" font-size="11" fill="#000" text-anchor="end">12.5</text>
<text transform="translate(100.70,434.5) scale(1,1.12)" font-size="11" fill="#000">17:50</text>
<text transform="translate(199.00,434.5) scale(1,1.12)" font-size="11" fill="#000" text-anchor="end">19.9</text>
<text transform="translate(199.00,450.5) scale(1,1.12)" font-size="11" fill="#000" text-anchor="end">15.69</text>
<text transform="translate(172.70,467) scale(1,1.07)" font-size="11.8" fill="#000" font-weight="bold" textLength="25.24" lengthAdjust="spacingAndGlyphs">13.9</text>
<text transform="translate(211.77,403) scale(1,1.07)" font-size="11.8" fill="#000" font-weight="bold" textLength="61.77" lengthAdjust="spacingAndGlyphs">Feuchte A.</text>
<text transform="translate(307.80,403) scale(1,1.07)" font-size="11.8" fill="#000" font-weight="bold" textLength="8.60" lengthAdjust="spacingAndGlyphs">%</text>
<text transform="translate(217.70,418.5) scale(1,1.12)" font-size="11" fill="#000">09:40</text>
<text transform="translate(316.00,418.5) scale(1,1.12)" font-size="11" fill="#000" text-anchor="end">80</text>
<text transform="translate(217.70,434.5) scale(1,1.12)" font-size="11" fill="#000">00:50</text>
<text transform="translate(316.00,434.5) scale(1,1.12)" font-size="11" fill="#000" text-anchor="end">90</text>
<text transform="translate(316.00,450.5) scale(1,1.12)" font-size="11" fill="#000" text-anchor="end">87</text>
<text transform="translate(216.00,466.5) scale(1,1.12)" font-size="11" fill="#000">10.20 g/m³</text>
<text transform="translate(302.70,467) scale(1,1.07)" font-size="11.8" fill="#000" font-weight="bold" textLength="13.92" lengthAdjust="spacingAndGlyphs">85</text>
<text transform="translate(330.32,403) scale(1,1.07)" font-size="11.8" fill="#000" font-weight="bold" textLength="53.12" lengthAdjust="spacingAndGlyphs">Luftdruck</text>
<text transform="translate(411.68,403) scale(1,1.07)" font-size="11.8" fill="#000" font-weight="bold" textLength="22.03" lengthAdjust="spacingAndGlyphs">hPa</text>
<text transform="translate(335.70,418.5) scale(1,1.12)" font-size="11" fill="#000">05:35</text>
<text transform="translate(434.00,418.5) scale(1,1.12)" font-size="11" fill="#000" text-anchor="end">1014.3</text>
<text transform="translate(335.70,434.5) scale(1,1.12)" font-size="11" fill="#000">15:35</text>
<text transform="translate(434.00,434.5) scale(1,1.12)" font-size="11" fill="#000" text-anchor="end">1019.9</text>
<text transform="translate(330.50,450.5) scale(1,1.12)" font-size="11" fill="#000">^2.1hPa/h</text>
<text transform="translate(434.00,450.5) scale(1,1.12)" font-size="11" fill="#000" text-anchor="end">1017.4</text>
<text transform="translate(330.50,466.5) scale(1,1.12)" font-size="11" fill="#000">bewölkt</text>
<text transform="translate(394.53,467) scale(1,1.07)" font-size="11.8" fill="#000" font-weight="bold" textLength="38.62" lengthAdjust="spacingAndGlyphs">1019.1</text>
<text transform="translate(448.90,403) scale(1,1.07)" font-size="11.8" fill="#000" font-weight="bold" textLength="28.18" lengthAdjust="spacingAndGlyphs">Wind</text>
<text transform="translate(522.82,403) scale(1,1.07)" font-size="11.8" fill="#000" font-weight="bold" textLength="29.73" lengthAdjust="spacingAndGlyphs">km/h</text>
<text transform="translate(448.50,418.5) scale(1,1.12)" font-size="11" fill="#000">Ø 10 min.</text>
<text transform="translate(552.00,418.5) scale(1,1.12)" font-size="11" fill="#000" text-anchor="end">0.2</text>
<text transform="translate(453.70,434.5) scale(1,1.12)" font-size="11" fill="#000">19:40</text>
<text transform="translate(552.00,434.5) scale(1,1.12)" font-size="11" fill="#000" text-anchor="end">SO 2.7</text>
<text transform="translate(552.00,450.5) scale(1,1.12)" font-size="11" fill="#000" text-anchor="end">0.3</text>
<text transform="translate(453.70,466.5) scale(1,1.12)" font-size="11" fill="#000">0 Bft W-NW</text>
<text transform="translate(534.80,467) scale(1,1.07)" font-size="11.8" fill="#000" font-weight="bold" textLength="18.23" lengthAdjust="spacingAndGlyphs">0.2</text>
<text transform="translate(566.50,403) scale(1,1.07)" font-size="11.8" fill="#000" font-weight="bold" textLength="57.45" lengthAdjust="spacingAndGlyphs">Windböen</text>
<text transform="translate(641.33,403) scale(1,1.07)" font-size="11.8" fill="#000" font-weight="bold" textLength="29.41" lengthAdjust="spacingAndGlyphs">km/h</text>
<text transform="translate(566.50,418.5) scale(1,1.12)" font-size="11" fill="#000">Ø 10 min.</text>
<text transform="translate(670.00,418.5) scale(1,1.12)" font-size="11" fill="#000" text-anchor="end">0.0</text>
<text transform="translate(571.70,434.5) scale(1,1.12)" font-size="11" fill="#000">20:45</text>
<text transform="translate(670.00,434.5) scale(1,1.12)" font-size="11" fill="#000" text-anchor="end">S-SW 13.8</text>
<text transform="translate(670.00,450.5) scale(1,1.12)" font-size="11" fill="#000" text-anchor="end">0.7</text>
<text transform="translate(571.70,466.5) scale(1,1.12)" font-size="11" fill="#000">0 Bft W-NW</text>
<text transform="translate(652.30,467) scale(1,1.07)" font-size="11.8" fill="#000" font-weight="bold" textLength="18.54" lengthAdjust="spacingAndGlyphs">0.0</text>
<text transform="translate(683.93,403) scale(1,1.07)" font-size="11.8" fill="#000" font-weight="bold" textLength="38.66" lengthAdjust="spacingAndGlyphs">Regen</text>
<text transform="translate(765.73,403) scale(1,1.07)" font-size="11.8" fill="#000" font-weight="bold" textLength="22.32" lengthAdjust="spacingAndGlyphs">l/m²</text>
<text transform="translate(689.70,434.5) scale(1,1.12)" font-size="11" fill="#000">18:50</text>
<text transform="translate(788.00,434.5) scale(1,1.12)" font-size="11" fill="#000" text-anchor="end">6.9</text>
<text transform="translate(684.50,450.5) scale(1,1.12)" font-size="11" fill="#000">Gesamt:</text>
<text transform="translate(788.00,450.5) scale(1,1.12)" font-size="11" fill="#000" text-anchor="end">15.1</text>
<text transform="translate(687.00,466.5) scale(1,1.12)" font-size="11" fill="#000">15.1 l/m²</text>
<text transform="translate(772.30,467) scale(1,1.07)" font-size="11.8" fill="#000" font-weight="bold" textLength="18.23" lengthAdjust="spacingAndGlyphs">0.0</text>
<text transform="translate(803.50,42) scale(1,1.12)" font-size="11" fill="#ff5050">T</text>
<rect x="802" y="47" width="8" height="2" fill="#808080" shape-rendering="crispEdges"/>
<rect x="802" y="117" width="8" height="3" fill="#00ffff" shape-rendering="crispEdges"/>
<rect x="804" y="128" width="3" height="1" fill="#808080" shape-rendering="crispEdges"/>
<rect x="804" y="208" width="3" height="1" fill="#808080" shape-rendering="crispEdges"/>
<rect x="804" y="288" width="3" height="1" fill="#808080" shape-rendering="crispEdges"/>
<rect x="804" y="368" width="3" height="1" fill="#808080" shape-rendering="crispEdges"/>
<rect x="804" y="448" width="3" height="1" fill="#808080" shape-rendering="crispEdges"/>
<rect x="806" y="88" width="2" height="2" fill="#808080" shape-rendering="crispEdges"/>
<rect x="803" y="248" width="2" height="2" fill="#808080" shape-rendering="crispEdges"/>
<rect x="801" y="384" width="2" height="2" fill="#808080" shape-rendering="crispEdges"/>
<polyline points="802.0,176.5 806.0,175.0 810.0,173.5" fill="none" stroke="#ff5050" stroke-width="2" stroke-linejoin="round" stroke-linecap="butt" shape-rendering="crispEdges"/>
<polyline points="802.3,227.6 805.0,225.0 810.0,223.9" fill="none" stroke="#00ff00" stroke-width="3" stroke-linejoin="round" stroke-linecap="butt" shape-rendering="crispEdges"/>
<polyline points="802.3,238.2 806.0,232.0 810.0,226.9" fill="none" stroke="#ff0000" stroke-width="4" stroke-linejoin="round" stroke-linecap="butt" shape-rendering="crispEdges"/>
<polyline points="802.3,266.6 806.0,261.0 810.0,257.5" fill="none" stroke="#ffff00" stroke-width="4" stroke-linejoin="round" stroke-linecap="butt" shape-rendering="crispEdges"/>
<rect x="806" y="317" width="4" height="1.5" fill="#00ff00"/>
</svg></body></html>
